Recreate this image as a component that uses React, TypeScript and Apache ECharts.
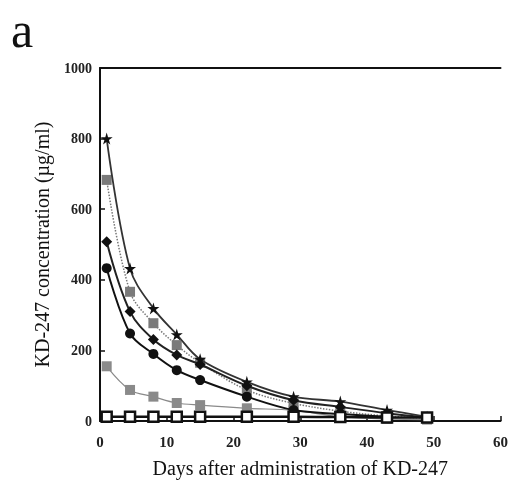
import React, { useEffect, useRef } from "react";
import * as echarts from "echarts";

const days = [1, 4.5, 8, 11.5, 15, 22, 29, 36, 43, 49];
const starSeries = [800, 432, 319, 245, 175, 111, 69, 55, 31, 12];
const grayHighSeries = [683, 366, 277, 215, 165, 88, 50, 28, 14, 8];
const diamondSeries = [508, 310, 231, 187, 160, 100, 59, 40, 22, 10];
const circleSeries = [433, 248, 190, 144, 116, 69, 31, 20, 12, null];
const grayLowSeries = [155, 88, 69, 51, 45, 36, 30, 12, 6, 4];
const openSquareSeries = [12, 12, 12, 12, 12, 12, 12, 11, 10, 10];
const xTicks = [0, 10, 20, 30, 40, 50, 60];
const yTicks = [0, 200, 400, 600, 800, 1000];

const STAR = "path://M50,0 L61,35 L98,35 L68,57 L79,91 L50,70 L21,91 L32,57 L2,35 L39,35 Z";
const FONT = "'Liberation Serif', 'DejaVu Serif', serif";

function pairs(vals: (number | null)[]) {
  return days.map((d, i) => [d, vals[i]]);
}

export default function App() {
  const ref = useRef<HTMLDivElement>(null);
  useEffect(() => {
    if (!ref.current) return;
    const chart = echarts.init(ref.current, null, { renderer: "svg" });
    const mk = (name: string, vals: (number | null)[], symbol: string, size: number, color: string, lineColor: string, lw: number, lineType: any = "solid", z = 2, borderColor?: string) => ({
      name,
      type: "line",
      data: pairs(vals),
      symbol,
      symbolSize: size,
      smooth: 0.35,
      connectNulls: false,
      z,
      lineStyle: { color: lineColor, width: lw, type: lineType },
      itemStyle: { color, borderColor: borderColor ?? color, borderWidth: borderColor ? 2.5 : 0 },
    });
    chart.setOption({
      animation: false,
      title: {
        text: "a",
        left: 6,
        top: 0,
        textStyle: { fontFamily: FONT, fontSize: 50, fontWeight: "normal", color: "#111" },
      },
      grid: { left: 100, right: 10, top: 68, bottom: 70, containLabel: false },
      xAxis: [
        {
          type: "value",
          min: xTicks[0],
          max: xTicks[xTicks.length - 1],
          interval: 10,
          name: "Days after administration of KD-247",
          nameLocation: "middle",
          nameGap: 37,
          nameTextStyle: { fontFamily: FONT, fontSize: 20, color: "#111" },
          axisLine: { lineStyle: { color: "#111", width: 2 } },
          axisTick: { inside: true, length: 5, lineStyle: { color: "#111", width: 1.5 } },
          axisLabel: { fontFamily: FONT, fontSize: 15, fontWeight: "bold", color: "#222", margin: 13 },
          splitLine: { show: false },
        },
        {
          type: "value",
          position: "top",
          min: 0,
          max: 60,
          interval: 10,
          axisLine: { show: true, lineStyle: { color: "#111", width: 2 } },
          axisTick: { show: false },
          axisLabel: { show: false },
          splitLine: { show: false },
        },
      ],
      yAxis: {
        type: "value",
        min: yTicks[0],
        max: yTicks[yTicks.length - 1],
        interval: 200,
        name: "KD-247 concentration (µg/ml)",
        nameLocation: "middle",
        nameGap: 48,
        nameTextStyle: { fontFamily: FONT, fontSize: 20, color: "#111" },
        axisLine: { show: true, lineStyle: { color: "#111", width: 2 } },
        axisTick: { show: true, inside: true, length: 5, lineStyle: { color: "#111", width: 1.5 } },
        axisLabel: { fontFamily: FONT, fontSize: 14, fontWeight: "bold", color: "#222", margin: 8, formatter: (v: number) => String(v) },
        splitLine: { show: false },
      },
      series: [
        mk("gray-low", grayLowSeries, "rect", 10, "#8a8a8a", "#8a8a8a", 1.2, "solid", 2),
        mk("circle", circleSeries, "circle", 10, "#111", "#111", 2, "solid", 3),
        mk("diamond", diamondSeries, "diamond", 11, "#111", "#222", 2, "solid", 3),
        mk("gray-high", grayHighSeries, "rect", 10, "#7a7a7a", "#777", 1.5, "dotted", 2),
        mk("star", starSeries, STAR, 12, "#111", "#333", 1.8, "solid", 4),
        mk("open-square", openSquareSeries, "rect", 10, "#ffffff", "#111", 2.5, "solid", 5, "#111"),
      ],
    });
    return () => chart.dispose();
  }, []);
  return <div ref={ref} style={{ position: "fixed", left: 0, top: 0, width: 511, height: 491 }} />;
}
